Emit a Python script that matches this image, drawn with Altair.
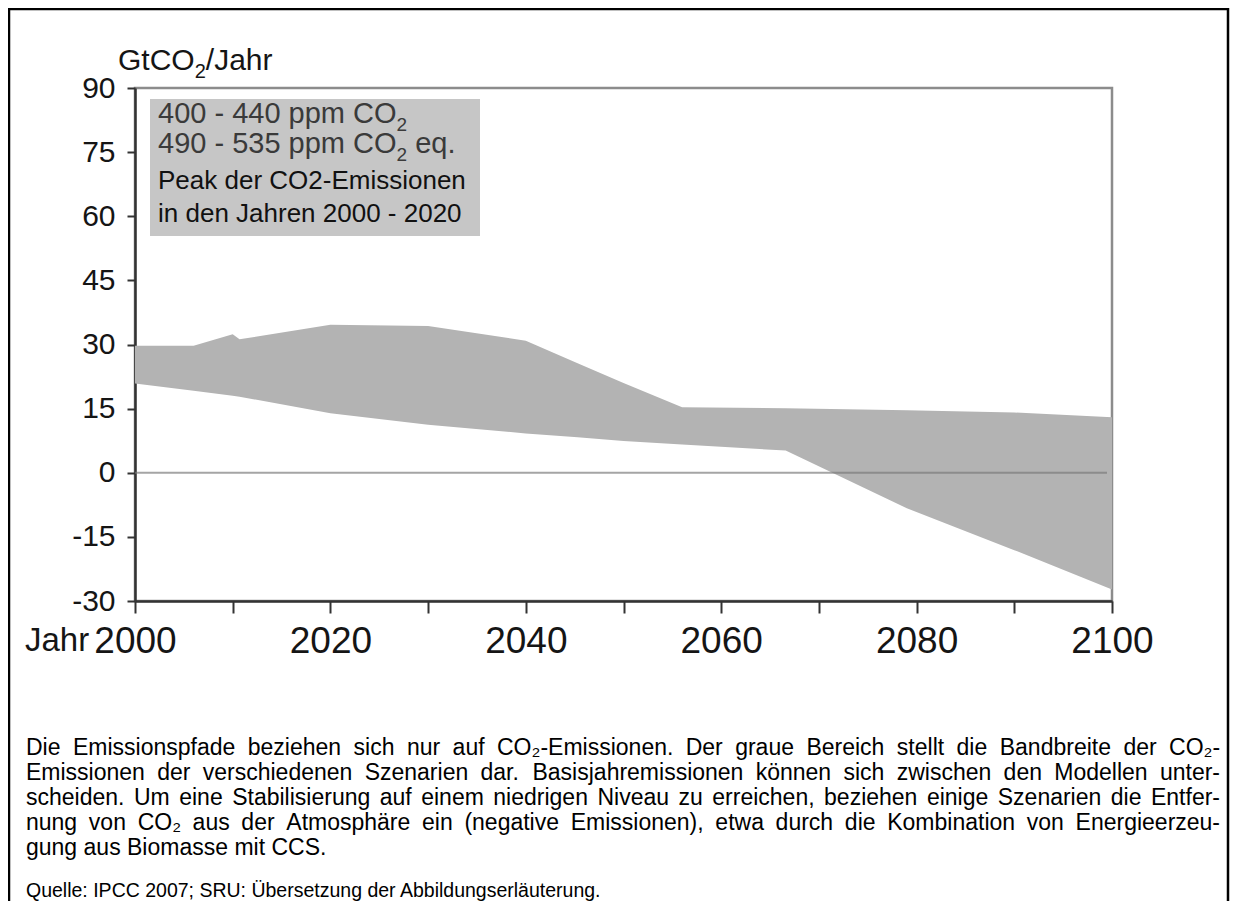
import altair as alt
import pandas as pd

FONT = "Liberation Sans, Arial, Helvetica, DejaVu Sans, sans-serif"

# ---- data ----
years = [2000, 2006, 2010, 2010.7, 2020, 2030, 2040, 2045.3, 2050, 2056, 2066.6, 2079, 2090, 2100]
upper = [29.7, 29.7, 32.4, 31.2, 34.6, 34.3, 30.9, 25.6, 21.0, 15.3, 15.1, 14.6, 14.1, 13.0]
lower = [20.9, 19.2, 18.0, 17.8, 13.9, 11.2, 9.2, 8.3, 7.4, 6.6, 5.2, -8.3, -18.1, -27.3]

x_ticks = list(range(2000, 2101, 10))
y_ticks = list(range(-30, 91, 15))

legend_lines = ["400 - 440 ppm CO", "490 - 535 ppm CO", "Peak der CO2-Emissionen", "in den Jahren 2000 - 2020"]
caption_lines = [
    "Die Emissionspfade beziehen sich nur auf CO\u2082-Emissionen. Der graue Bereich stellt die Bandbreite der CO\u2082-",
    "Emissionen der verschiedenen Szenarien dar. Basisjahremissionen k\u00f6nnen sich zwischen den Modellen unter-",
    "scheiden. Um eine Stabilisierung auf einem niedrigen Niveau zu erreichen, beziehen einige Szenarien die Entfer-",
    "nung von CO\u2082 aus der Atmosph\u00e4re ein (negative Emissionen), etwa durch die Kombination von Energieerzeu-",
    "gung aus Biomasse mit CCS.",
]
source_line = "Quelle: IPCC 2007; SRU: \u00dcbersetzung der Abbildungserl\u00e4uterung."

# ---- Arial metrics (Liberation Sans is metric compatible) ----
W = {' ': 278, '-': 333, '.': 278, ',': 278, '/': 278, ':': 278, ';': 278, '(': 333, ')': 333,
     'A': 667, 'B': 667, 'C': 722, 'D': 722, 'E': 667, 'G': 778, 'I': 278, 'J': 500, 'K': 667,
     'M': 833, 'N': 722, 'O': 778, 'P': 667, 'Q': 778, 'R': 722, 'S': 667, 'U': 722, '\u00dc': 722,
     'a': 556, 'b': 556, 'c': 500, 'd': 556, 'e': 556, 'f': 278, 'g': 556, 'h': 556, 'i': 222,
     'j': 222, 'k': 500, 'l': 222, 'm': 833, 'n': 556, 'o': 556, 'p': 556, 'q': 556, 'r': 333,
     's': 500, 't': 278, 'u': 556, 'v': 500, 'w': 722, 'x': 500, 'y': 500, 'z': 500,
     '\u00e4': 556, '\u00f6': 556, '\u00fc': 556, '\u2082': 380}


def tw(s, size):
    return sum(W.get(c, 556) for c in s) * size / 1000.0


dummy = pd.DataFrame({"k": [0]})


def txt(s, x, y, size, color="black", align="left", baseline="alphabetic"):
    return alt.Chart(dummy).mark_text(
        text=s, fontSize=size, color=color, align=align, baseline=baseline, font=FONT
    ).encode(x=alt.value(x), y=alt.value(y))


df = pd.DataFrame({"year": years, "upper": upper, "lower": lower})

xscale = alt.Scale(domain=[2000, 2100], nice=False, zero=False)
yscale = alt.Scale(domain=[-30, 90], nice=False, zero=False)

area = alt.Chart(df).mark_area(color="#b3b3b3", opacity=1, interpolate="linear").encode(
    x=alt.X("year:Q", scale=xscale, title=None,
            axis=alt.Axis(values=x_ticks, labelExpr="datum.value % 20 == 0 ? '' + datum.value : ''",
                          tickSize=12, tickWidth=2, tickColor="#333333", domainColor="#333333",
                          domainWidth=2.5, labelFontSize=37, labelFont=FONT, labelColor="#151515",
                          labelPadding=10, labelBaseline="top", grid=False, labelFlush=False,
                          labelOverlap=False)),
    y=alt.Y("upper:Q", scale=yscale, title=None,
            axis=alt.Axis(values=y_ticks, labelExpr="'' + datum.value", tickSize=8, tickWidth=2,
                          tickColor="#333333", domainColor="#333333", domainWidth=2.5,
                          labelFontSize=30, labelFont=FONT, labelColor="#151515", labelPadding=12,
                          grid=False, labelOverlap=False)),
    y2="lower:Q",
)

zero = alt.Chart(pd.DataFrame({"v": [0]})).mark_rule(color="#797979", opacity=0.67, strokeWidth=2).encode(
    y=alt.Y("v:Q", scale=yscale), x=alt.value(0), x2=alt.value(972)
)

layers = [area, zero]

# legend box
layers.append(alt.Chart(dummy).mark_rect(color="#c6c6c6").encode(
    x=alt.value(15), x2=alt.value(345), y=alt.value(11), y2=alt.value(148)))

s1 = 29
w1 = tw(legend_lines[0], s1)
layers += [
    txt(legend_lines[0], 23, 35, s1, "#3a3a3a"),
    txt("2", 23 + w1, 43, 19, "#3a3a3a"),
    txt(legend_lines[1], 23, 65, s1, "#3a3a3a"),
    txt("2", 23 + w1, 73, 19, "#3a3a3a"),
    txt("eq.", 23 + w1 + tw("2", 19) + tw(" ", s1), 65, s1, "#3a3a3a"),
    txt(legend_lines[2], 23, 101, 26, "#111111"),
    txt(legend_lines[3], 23, 134, 26, "#111111"),
]

# y axis title GtCO2/Jahr
t0 = -17
layers += [
    txt("GtCO", t0, -18, 30, "#151515"),
    txt("2", t0 + tw("GtCO", 30), -10, 20, "#151515"),
    txt("/Jahr", t0 + tw("GtCO", 30) + tw("2", 20), -18, 30, "#151515"),
    txt("Jahr", -110, 563, 33, "#151515"),
]

# caption, justified like the reference
left, right = -109, 1085
max_em = max(tw(l, 1.0) for l in caption_lines[:4])
cap_size = min(23.0, round((right - left) / max_em * 0.985, 1))
rows = []
base = 667
for i, line in enumerate(caption_lines):
    words = line.split(" ")
    y = base + 25 * i
    if i < 4:
        widths = [tw(w, cap_size) for w in words]
        gap = (right - left - sum(widths)) / (len(words) - 1)
        x = left
        for w, wd in zip(words, widths):
            rows.append({"w": w, "px": x, "py": y})
            x += wd + gap
    else:
        rows.append({"w": line, "px": left, "py": y})
cap_df = pd.DataFrame(rows)
layers.append(alt.Chart(cap_df).mark_text(align="left", baseline="alphabetic", fontSize=cap_size,
                                          font=FONT, color="black").encode(
    x=alt.X("px:Q", scale=None, axis=None), y=alt.Y("py:Q", scale=None, axis=None), text="w:N"))
layers.append(txt(source_line, left, 809, 19.5, "black"))

# outer frame
layers.append(alt.Chart(dummy).mark_rect(fillOpacity=0, stroke="black", strokeWidth=2.5).encode(
    x=alt.value(-126), x2=alt.value(1093), y=alt.value(-79), y2=alt.value(840)))

chart = alt.layer(*layers).properties(
    width=977, height=513,
    padding={"left": 127, "top": 80, "right": 118, "bottom": 300},
    autosize=alt.AutoSizeParams(type="none"),
    background="white",
).configure_view(stroke="#8c8c8c", strokeWidth=2.5)

chart.save("out.html", embed_options={"renderer": "svg", "actions": False})
